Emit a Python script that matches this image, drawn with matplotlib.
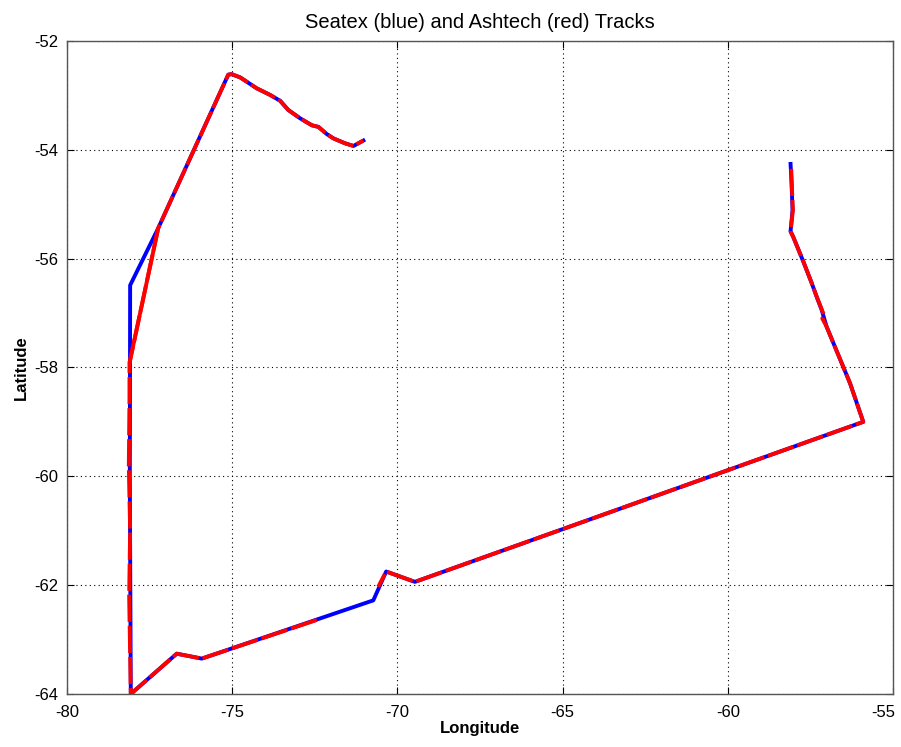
import numpy as np
import matplotlib
matplotlib.use("Agg")
import matplotlib.pyplot as plt
from matplotlib.transforms import ScaledTranslation

plt.rcParams['font.family'] = ['Liberation Sans Narrow', 'Liberation Sans', 'DejaVu Sans']

# Seatex (blue) track
blue_lon = [-58.10, -58.07, -58.04, -58.10, -58.02, -57.71, -57.46, -57.31, -57.16, -57.01,
            -56.30, -55.90, -69.47, -70.34, -70.73, -75.92, -76.68, -78.07, -78.10, -78.09,
            -77.24, -75.12, -75.02, -74.76, -74.26, -73.86, -73.55, -73.30, -72.95, -72.59,
            -72.39, -72.14, -71.94, -71.59, -71.33, -71.03]
blue_lat = [-54.26, -54.62, -55.11, -55.50, -55.60, -56.06, -56.45, -56.70, -56.94, -57.25,
            -58.29, -59.00, -61.94, -61.75, -62.28, -63.35, -63.26, -64.00, -60.00, -56.49,
            -55.44, -52.62, -52.61, -52.67, -52.87, -52.99, -53.10, -53.27, -53.42, -53.55,
            -53.58, -53.71, -53.79, -53.88, -53.93, -53.83]

# Ashtech (red) track (NaN = data gap)
red_lon = [-58.08, -58.06, -58.03, -58.10, -58.02, -57.71, -57.46, -57.31, -57.08, -57.14,
           -57.01, -56.30, -55.90, -69.47, -70.34, -70.58, np.nan, -72.44, -75.92, -76.68,
           -78.07, -78.12, -78.09, -78.13, -78.11, -78.11, -77.24, -75.12, -75.02, -74.76,
           -74.26, -73.86, -73.55, -73.30, -72.95, -72.59, -72.39, -72.14, -71.94, -71.59,
           -71.33, -71.03]
red_lat = [-54.35, -54.70, -55.11, -55.50, -55.60, -56.06, -56.45, -56.70, -57.05, -57.10,
           -57.25, -58.29, -59.00, -61.94, -61.75, -62.03, np.nan, -62.64, -63.35, -63.26,
           -64.00, -62.20, -61.00, -59.80, -58.60, -57.92, -55.44, -52.62, -52.61, -52.67,
           -52.87, -52.99, -53.10, -53.27, -53.42, -53.55, -53.58, -53.71, -53.79, -53.88,
           -53.93, -53.83]

x_ticks = [-80, -75, -70, -65, -60, -55]
y_ticks = [-64, -62, -60, -58, -56, -54, -52]

fig = plt.figure(figsize=(9.01, 7.47), dpi=100)
ax = fig.add_axes([0.0744, 0.0710, 0.9167, 0.8742])

ax.plot(blue_lon, blue_lat, color='#0000ff', lw=2.8, solid_joinstyle='round')
# red overlays the blue; where it departs from the blue track it is drawn solid
ax.plot(red_lon[25:27], red_lat[25:27], color='#ff0000', lw=2.8, solid_capstyle='butt')
ax.plot(red_lon, red_lat, color='#ff0000', lw=2.8, linestyle=(0, (7, 1.0)))

ax.set_xlim(-80, -55)
ax.set_ylim(-64, -52)
ax.set_xticks(x_ticks)
ax.set_yticks(y_ticks)
ax.set_xticklabels([str(v) for v in x_ticks])
ax.set_yticklabels([str(v) for v in y_ticks])
ax.tick_params(direction='in', length=5, width=0.8, labelsize=12, top=True, right=True, pad=6)
ax.tick_params(axis='x', pad=8)
ax.grid(True, linestyle=(0, (1, 3)), color='black', linewidth=0.8)
for s in ax.spines.values():
    s.set_color('#555555')
    s.set_linewidth(1.0)

# keep the last x tick label inside the figure
last = ax.get_xticklabels()[-1]
last.set_transform(last.get_transform() + ScaledTranslation(-10 / 100, 0, fig.dpi_scale_trans))

ax.set_title('Seatex (blue) and Ashtech (red) Tracks', fontsize=14.5, pad=9)
ax.set_xlabel('Longitude', fontsize=12, fontweight='bold', labelpad=1)
ax.set_ylabel('Latitude', fontsize=12, fontweight='bold', labelpad=4)

fig.savefig('out.png', dpi=100)
